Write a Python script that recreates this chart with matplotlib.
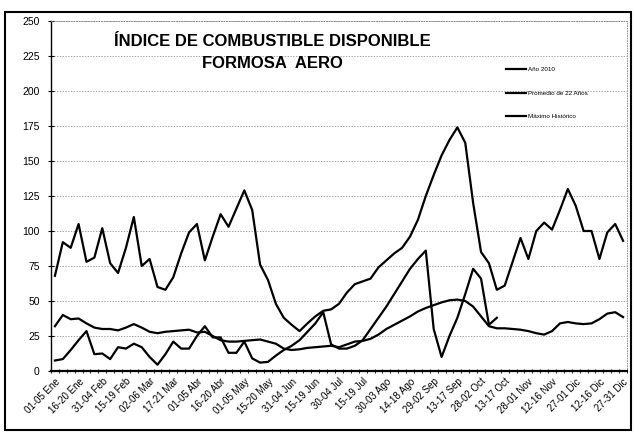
import matplotlib.pyplot as plt
from matplotlib.patches import Rectangle
from matplotlib.transforms import ScaledTranslation
import numpy as np

plt.rcParams['font.family'] = ['Liberation Sans', 'DejaVu Sans']

# 73 pentads (5-day periods) across the year
tick_labels = ["01-05 Ene", "16-20 Ene", "31-04 Feb", "15-19 Feb", "02-06 Mar",
               "17-21 Mar", "01-05 Abr", "16-20 Abr", "01-05 May", "15-20 May",
               "31-04 Jun", "15-19 Jun", "30-04 Jul", "15-19 Jul", "30-03 Ago",
               "14-18 Ago", "29-02 Sep", "13-17 Sep", "28-02 Oct", "13-17 Oct",
               "28-01 Nov", "12-16 Nov", "27-01 Dic", "12-16 Dic", "27-31 Dic"]

anio_2010 = [7.5, 8.5, 15, 22, 28.5, 12, 12.5, 8.5, 17, 16,
             19.5, 17, 10, 4.5, 12, 21, 16, 16, 25, 32,
             24, 24, 13, 13, 21, 9, 6, 6.5, 11, 15,
             18, 22, 28, 34, 42, 19, 16, 16, 18, 22,
             30, 38, 46, 55, 64, 73, 80, 86, 30, 10,
             25, 38, 55, 73, 66, 33, 38]

promedio = [32, 40, 37, 37.5, 34, 31, 30, 30, 29, 31,
            33.5, 31, 28, 27, 28, 28.5, 29, 29.5, 27.5, 28,
            25, 22, 21, 21, 21.5, 22, 22.5, 21, 19.5, 16,
            15, 15.5, 16.5, 17, 17.5, 18, 17, 19, 21, 21.5,
            23, 26, 30, 33, 36, 39, 42.5, 45, 47, 49,
            50.5, 51, 50, 46, 39, 32, 30.5, 30.5, 30, 29.5,
            28.5, 27, 26, 28.5, 34, 35, 34, 33.5, 34, 37,
            41, 42, 38.5]

maximo = [68, 92, 88, 105, 78, 81, 102, 77, 70, 88,
          110, 75, 80, 60, 58, 67, 84, 99, 105, 79,
          96, 112, 103, 116, 129, 115, 76, 65, 48, 38,
          33, 28.5, 34, 39, 43, 44, 48, 56, 62, 64,
          66, 74, 79, 84, 88, 96, 108, 125, 140, 154,
          165, 174, 163, 120, 85, 77, 58, 61, 78, 95,
          80, 100, 106, 101, 115, 130, 118, 100, 100, 80,
          99, 105, 93]

fig = plt.figure(figsize=(6.34, 4.33), dpi=100)
ax = fig.add_axes([0.0804, 0.1432, 0.9086, 0.8083])

x = np.arange(len(maximo))
ax.plot(np.arange(len(anio_2010)), anio_2010, color='black', lw=1.6, label='Año 2010')
ax.plot(x, promedio, color='black', lw=1.6, label='Promedio de 22 Años')
ax.plot(x, maximo, color='black', lw=1.6, label='Máximo Histórico')

ax.set_xlim(-0.5, len(maximo) - 0.5)
ax.set_ylim(0, 250)
ax.set_yticks(np.arange(0, 251, 25))
ax.tick_params(axis='y', labelsize=7.5, direction='inout', length=4, width=0.8, pad=6)
ax.set_xticks(x[::3])
ax.set_xticklabels(tick_labels, rotation=45, ha='right', rotation_mode='anchor',
                   fontsize=7)
shift = ScaledTranslation(-6 / 100, 0, fig.dpi_scale_trans)
for lab in ax.get_xticklabels():
    lab.set_transform(lab.get_transform() + shift)
ax.set_xticks(np.arange(-0.5, len(maximo), 1), minor=True)
ax.tick_params(axis='x', which='major', length=0, pad=4)
ax.tick_params(axis='x', which='minor', direction='inout', length=3, width=0.6)

ax.grid(axis='y', color='gray', ls=(0, (2, 2)), lw=0.5)
for s in ['top', 'right']:
    ax.spines[s].set_linestyle((0, (1, 2)))
    ax.spines[s].set_linewidth(0.6)
    ax.spines[s].set_color('gray')
ax.spines['left'].set_linewidth(1.0)
ax.spines['bottom'].set_linewidth(1.6)

fig.text(272 / 634, 1 - 42 / 433, 'ÍNDICE DE COMBUSTIBLE DISPONIBLE', ha='center',
         va='center', fontsize=12, fontweight='bold')
fig.text(272 / 634, 1 - 63 / 433, 'FORMOSA  AERO', ha='center', va='center',
         fontsize=12, fontweight='bold')

ax.legend(loc='upper left', bbox_to_anchor=(0.78, 0.885), frameon=False,
          fontsize=4.5, handlelength=3.2, labelspacing=2.9, handletextpad=0.3)

fig.patches.append(Rectangle((5 / 634, 3 / 433), 626 / 634, 418 / 433,
                             transform=fig.transFigure, fill=False,
                             edgecolor='black', lw=1.5))

fig.savefig('out.png', dpi=100)
